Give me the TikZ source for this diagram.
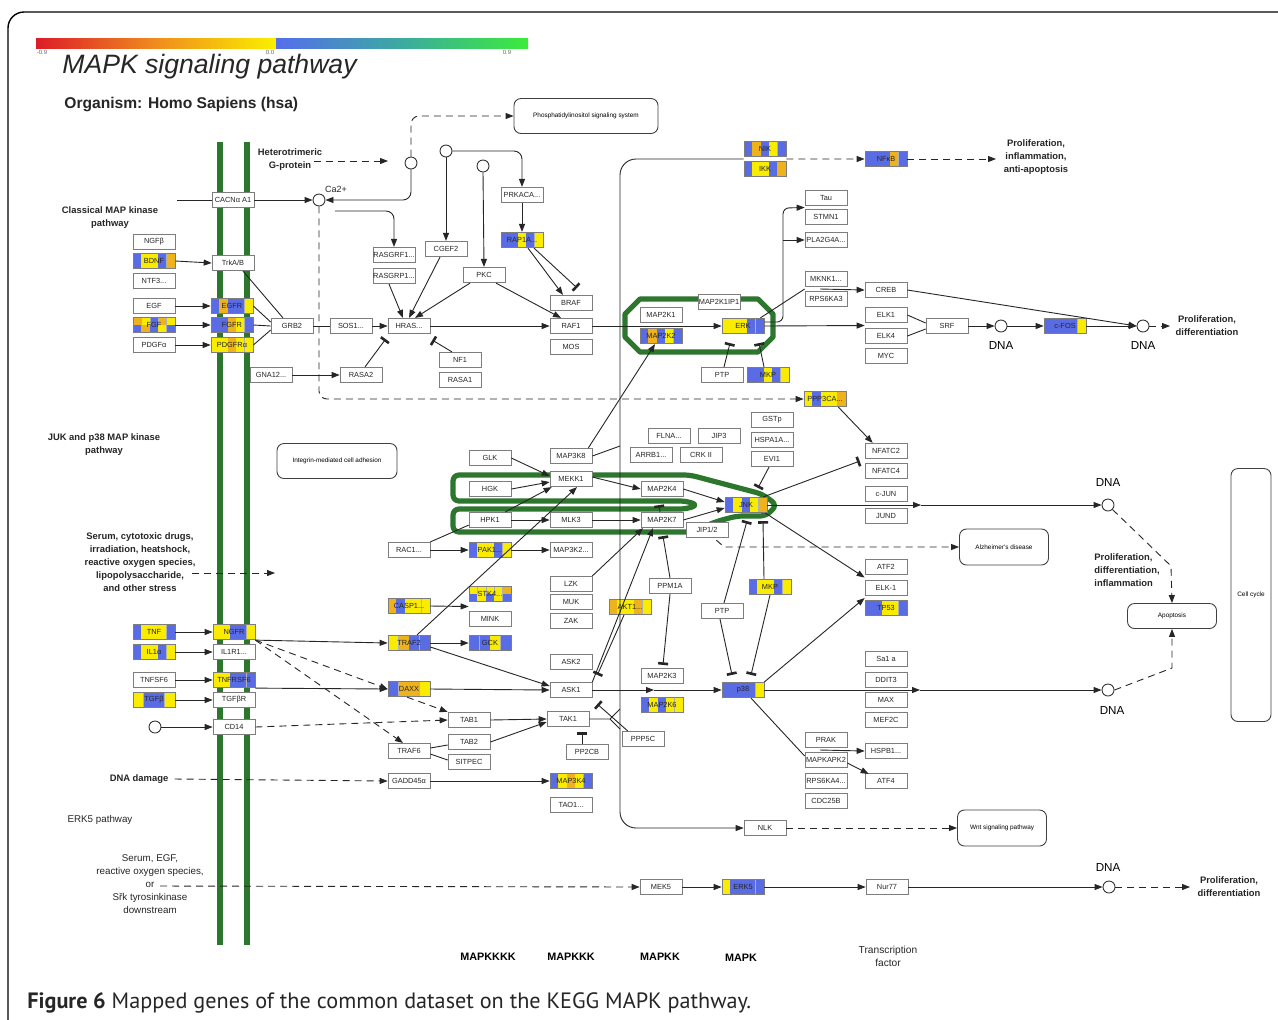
\documentclass[tikz,border=0pt]{standalone}
\usepackage{fontspec}
\setmainfont{Liberation Sans}
\newfontfamily\capfont{PT Sans}
\usetikzlibrary{arrows.meta,calc}
\definecolor{kb}{RGB}{90,108,228}
\definecolor{ky}{RGB}{250,236,0}
\definecolor{ko}{RGB}{238,178,28}
\definecolor{kg}{RGB}{44,118,46}
\definecolor{bx}{RGB}{125,125,125}
\definecolor{cbr}{RGB}{220,28,40}
\definecolor{cbo}{RGB}{240,140,30}
\definecolor{cby}{RGB}{250,240,0}
\definecolor{cbb}{RGB}{85,110,235}
\definecolor{cbt}{RGB}{60,170,160}
\definecolor{cbg}{RGB}{60,235,60}
\newcommand\fsz[2]{\fontsize{#1}{#2}\selectfont}
\tikzset{
 gb/.style={draw=bx, line width=0.35pt, fill=white, minimum width=21pt, minimum height=7.75pt, inner sep=0pt, font=\fsz{3.7}{4}, text=black!85},
 cbn/.style={draw=bx, line width=0.35pt, minimum width=21pt, minimum height=7.75pt, inner sep=0pt, font=\fsz{3.7}{4}, text=black!85},
 rb/.style={draw=black!75, line width=0.45pt, rounded corners=3.5pt, fill=white, inner sep=0pt, font=\fsz{3.2}{3.6}, align=center},
 dotc/.style={circle, draw=black!80, line width=0.45pt, fill=white, minimum size=6pt, inner sep=0pt},
 ln/.style={line width=0.45pt, draw=black!85},
 ar/.style={ln, -{Triangle[length=4pt,width=3pt]}},
 inh/.style={ln, -{Bar[width=5pt,line width=1.3pt]}},
 dsh/.style={dash pattern=on 3.5pt off 2.5pt},
 ann/.style={font=\bfseries\fsz{4.7}{6.5}, align=center, inner sep=0pt, text=black!85},
 lab/.style={font=\fsz{4.9}{6.5}, align=center, inner sep=0pt, text=black!85},
 grn/.style={draw=kg, line width=2.6pt, line join=round},
 memb/.style={draw=kg, line width=2.6pt},
 dnal/.style={font=\fsz{5.8}{6}, inner sep=0pt},
 lyr/.style={font=\bfseries\fsz{5.4}{6.5}, inner sep=0pt, align=center},
}
\newcommand\cbx[5]{%
  \foreach \cc [count=\nn] in {#5}{\xdef\segN{\nn}}%
  \foreach \cc [count=\ii] in {#5}{%
    \fill[\cc] ({#2-21+42*(\ii-1)/\segN},{#3-7.75}) rectangle ({#2-21+42*\ii/\segN},{#3+7.75});
    \draw[bx!60,line width=0.2pt] ({#2-21+42*\ii/\segN},{#3-7.75}) -- ++(0,15.5);}%
  \node[cbn] (#1) at (#2,#3) {#4};}
\newcommand\cbxtwo[6]{%
  \foreach \cc [count=\nn] in {#5}{\xdef\segN{\nn}}%
  \foreach \cc [count=\ii] in {#5}{%
    \fill[\cc] ({#2-21+42*(\ii-1)/\segN},{#3-7.75}) rectangle ({#2-21+42*\ii/\segN},{#3});}%
  \foreach \cc [count=\ii] in {#6}{%
    \fill[\cc] ({#2-21+42*(\ii-1)/\segN},{#3}) rectangle ({#2-21+42*\ii/\segN},{#3+7.75});
    \draw[bx!60,line width=0.2pt] ({#2-21+42*\ii/\segN},{#3-7.75}) -- ++(0,15.5);}%
  \node[cbn] (#1) at (#2,#3) {#4};}
\begin{document}
\begin{tikzpicture}[x=0.5pt,y=-0.5pt]
\useasboundingbox (0,0) rectangle (1278,1019);
\fill[white] (0,0) rectangle (1278,1019);
\draw[line width=0.7pt,rounded corners=8pt] (8,1030) -- (8,12) -- (1290,12);
% colour bar
\shade[left color=cbr,right color=cbo] (36,38) rectangle (156,48);
\shade[left color=cbo,right color=cby] (156,38) rectangle (276,48);
\shade[left color=cbb,right color=cbt] (276,38) rectangle (402,48);
\shade[left color=cbt,right color=cbg] (402,38) rectangle (528,48);
\node[font=\fsz{3}{3},text=black!60,inner sep=0] (lm) at (42,52.5) {-0.9};
\node[font=\fsz{3}{3},text=black!60,inner sep=0] (l0) at (270,52.5) {0.0};
\node[font=\fsz{3}{3},text=black!60,inner sep=0] (lp) at (507,52.5) {0.9};
\node[font=\itshape\fsz{13.3}{13.3},anchor=west,inner sep=0,text=black!85] (title) at (62,67) {MAPK signaling pathway};
\node[font=\bfseries\fsz{7.8}{8},anchor=west,inner sep=0,text=black!85] (org) at (64,104) {Organism: Homo Sapiens (hsa)};
% membranes
\draw[memb] (220,142) -- (220,945);
\draw[memb] (247,142) -- (247,945);
% green modules
\draw[grn] (640,299) -- (758,299) -- (773,314) -- (773,337) -- (758,352) -- (640,352) -- (625,337) -- (625,314) -- cycle;
\draw[grn,rounded corners=3pt] (560,475) -- (690,475) -- (762,494) -- (777,505) -- (766,516) -- (737,516) -- (718,521) -- (690,532) -- (453,532) -- (453,509) -- (686,509) -- (698,505) -- (686,501) -- (453,501) -- (453,475) -- cycle;
% ---------- nodes ----------
\node[gb] (ngfb) at (154,242) {NGFβ};
\cbx{bdnf}{154}{261}{BDNF}{kb,ky,ky,kb,ko}
\node[gb] (ntf3) at (154,281) {NTF3...};
\node[gb] (egf) at (154,306) {EGF};
\cbxtwo{fgf}{154}{325}{FGF}{ko,ky,kb,ko,ky}{kb,ko,kb,ky,kb}
\node[gb] (pdgfa) at (154,345) {PDGFα};
\node[gb] (cacna) at (233,200) {CACNα A1};
\node[gb] (trkab) at (233,263) {TrkA/B};
\cbx{egfr}{232}{306}{EGFR}{kb,ko,kb,kb,ky}
\cbx{fgfr}{232}{325}{FGFR}{kb,kb,ko,ky,kb}
\cbx{pdgfra}{232}{345}{PDGFRα}{ky,ky,ko,ky,ky}
\node[gb] (grb2) at (292,326) {GRB2};
\node[gb] (sos1) at (351,326) {SOS1...};
\node[gb] (hras) at (409,326) {HRAS...};
\node[gb] (rasgrf1) at (394,255) {RASGRF1...};
\node[gb] (rasgrp1) at (394,276) {RASGRP1...};
\node[gb] (cgef2) at (446,249) {CGEF2};
\node[gb] (pkc) at (484,275) {PKC};
\node[gb] (prkaca) at (522,195) {PRKACA...};
\cbx{rap1a}{522}{240}{RAP1A...}{kb,kb,ky,kb,ky}
\node[gb] (braf) at (571,303) {BRAF};
\node[gb] (raf1) at (571,326) {RAF1};
\node[gb] (mos) at (571,347) {MOS};
\node[gb] (nf1) at (460,360) {NF1};
\node[gb] (rasa1) at (460,380) {RASA1};
\node[gb] (rasa2) at (361,375) {RASA2};
\node[gb] (gna12) at (271,375) {GNA12...};
\node[gb] (map2k1) at (661,315) {MAP2K1};
\cbx{map2k2}{661}{336}{MAP2K2}{kb,ko,kb,ky,kb}
\node[gb] (map2k1ip1) at (719,302) {MAP2K1IP1};
\cbx{erk}{743}{326}{ERK}{ky,ky,ky,kb,kb}
\node[gb] (ptpa) at (722,375) {PTP};
\cbx{mkpa}{768}{375}{MKP}{kb,kb,ky,kb,ky}
\cbx{nik}{765}{149}{NIK}{kb,ko,kb,ky,kb}
\cbx{ikk}{765}{169}{IKK}{kb,ky,ky,kb,ko}
\cbx{nfkb}{886}{159}{NFκB}{kb,kb,kb,ko,kb}
\node[gb] (tau) at (826,198) {Tau};
\node[gb] (stmn1) at (826,217) {STMN1};
\node[gb] (pla2g4a) at (826,240) {PLA2G4A...};
\node[gb] (mknk1) at (826,279) {MKNK1...};
\node[gb] (rps6ka3) at (826,299) {RPS6KA3};
\node[gb] (creb) at (886,290) {CREB};
\node[gb] (elk1) at (886,315) {ELK1};
\node[gb] (elk4) at (886,336) {ELK4};
\node[gb] (myc) at (886,356) {MYC};
\node[gb] (srf) at (947,326) {SRF};
\cbx{cfos}{1065}{326}{c-FOS}{kb,kb,kb,kb,ky}
\cbx{ppp3ca}{825}{399}{PPP3CA...}{ky,kb,ky,ky,ko}
\node[gb] (gstp) at (772,420) {GSTp};
\node[gb] (hspa1a) at (772,440) {HSPA1A...};
\node[gb] (evi1) at (772,459) {EVI1};
\node[gb] (flna) at (669,436) {FLNA...};
\node[gb] (jip3) at (719,436) {JIP3};
\node[gb] (arrb1) at (651,455) {ARRB1...};
\node[gb] (crk) at (701,455) {CRK II};
\node[gb] (glk) at (490,458) {GLK};
\node[gb] (map3k8) at (571,456) {MAP3K8};
\node[gb] (mekk1) at (571,479) {MEKK1};
\node[gb] (hgk) at (490,489) {HGK};
\node[gb] (hpk1) at (490,520) {HPK1};
\node[gb] (mlk3) at (571,520) {MLK3};
\node[gb] (map2k4) at (662,489) {MAP2K4};
\node[gb] (map2k7) at (662,520) {MAP2K7};
\node[gb] (jip12) at (707,530) {JIP1/2};
\cbx{jnk}{746}{505}{JNK}{kb,ky,kb,ky,ko}
\node[gb] (nfatc2) at (886,451) {NFATC2};
\node[gb] (nfatc4) at (886,471) {NFATC4};
\node[gb] (cjun) at (886,494) {c-JUN};
\node[gb] (jund) at (886,516) {JUND};
\node[gb] (atf2) at (886,567) {ATF2};
\node[gb] (elk1b) at (886,588) {ELK-1};
\cbx{tp53}{886}{608}{TP53}{kb,kb,ky,ky,kb}
\node[gb] (ptpb) at (722,611) {PTP};
\cbx{mkpb}{770}{587}{MKP}{kb,ky,ky,kb,ky}
\node[gb] (ppm1a) at (670,586) {PPM1A};
\cbx{akt1}{630}{607}{AKT1...}{ko,ky,ky,ko,ky}
\node[gb] (rac1) at (409,550) {RAC1...};
\cbx{pak1}{490}{550}{PAK1...}{kb,ky,ky,kb,ky}
\node[gb] (map3k2) at (571,550) {MAP3K2...};
\cbx{casp1}{409}{606}{CASP1...}{ko,kb,ky,ky,ky}
\cbxtwo{stk4}{490}{594}{STK4...}{ky,ky,ky,ky,ko}{kb,ky,kb,ky,kb}
\node[gb] (mink) at (490,619) {MINK};
\cbx{traf2}{409}{643}{TRAF2}{ky,ko,kb,kb}
\cbx{gck}{490}{643}{GCK}{kb,kb,ky,kb}
\node[gb] (lzk) at (571,584) {LZK};
\node[gb] (muk) at (571,602) {MUK};
\node[gb] (zak) at (571,621) {ZAK};
\node[gb] (ask2) at (571,662) {ASK2};
\node[gb] (ask1) at (571,690) {ASK1};
\node[gb] (tak1) at (568,719) {TAK1};
\node[gb] (pp2cb) at (587,752) {PP2CB};
\cbx{map3k4}{571}{781}{MAP3K4}{kb,ky,ko,ky,kb}
\node[gb] (tao1) at (571,805) {TAO1...};
\node[gb] (ppp5c) at (643,739) {PPP5C};
\node[gb] (map2k3) at (662,676) {MAP2K3};
\cbx{map2k6}{662}{705}{MAP2K6}{kb,ky,kb,ky,ky}
\cbx{p38}{743}{690}{p38}{kb,kb,kb,kb,ky}
\node[gb] (sa1a) at (886,659) {Sa1 a};
\node[gb] (ddit3) at (886,680) {DDIT3};
\node[gb] (max) at (886,700) {MAX};
\node[gb] (mef2c) at (886,720) {MEF2C};
\node[gb] (prak) at (826,740) {PRAK};
\node[gb] (mapkapk2) at (826,760) {MAPKAPK2};
\node[gb] (rps6ka4) at (826,781) {RPS6KA4...};
\node[gb] (cdc25b) at (826,801) {CDC25B};
\node[gb] (hspb1) at (886,751) {HSPB1...};
\node[gb] (atf4) at (886,781) {ATF4};
\node[gb] (nlk) at (765,828) {NLK};
\cbx{tnf}{154}{632}{TNF}{kb,ky,ky,ky,kb}
\cbx{il1a}{154}{652}{IL1α}{kb,ky,ky,kb,ky}
\node[gb] (tnfsf6) at (154,680) {TNFSF6};
\cbx{tgfb}{154}{700}{TGFβ}{ky,kb,kb,ky}
\cbx{ngfr}{234}{632}{NGFR}{ky,ky,kb,kb,ky}
\node[gb] (il1r1) at (234,652) {IL1R1...};
\cbx{tnfrsf6}{234}{680}{TNFRSF6}{ky,ky,kb,kb,kb}
\node[gb] (tgfbr) at (234,700) {TGFβR};
\node[gb] (cd14) at (234,727) {CD14};
\cbx{daxx}{409}{689}{DAXX}{kb,ko,ko,ky}
\node[gb] (tab1) at (469,720) {TAB1};
\node[gb] (tab2) at (469,742) {TAB2};
\node[gb] (sitpec) at (469,762) {SITPEC};
\node[gb] (traf6) at (409,751) {TRAF6};
\node[gb] (gadd45a) at (409,781) {GADD45α};
\node[gb] (mek5) at (661,887) {MEK5};
\cbx{erk5}{743}{887}{ERK5}{ky,kb,kb,kb,kb}
\node[gb] (nur77) at (887,887) {Nur77};
% rounded boxes
\node[rb, minimum width=72pt, minimum height=17.5pt] (phos) at (586,116) {Phosphatidylinositol signaling system};
\node[rb, minimum width=60pt, minimum height=17.5pt] (integ) at (337,461) {Integrin-mediated cell adhesion};
\node[rb, minimum width=44.5pt, minimum height=18pt] (alz) at (1004,547) {Alzheimer's disease};
\node[rb, minimum width=44.5pt, minimum height=12.5pt] (apop) at (1172,616) {Apoptosis};
\node[rb, minimum width=20pt, minimum height=126.5pt] (cellc) at (1251,595) {Cell cycle};
\node[rb, minimum width=44.5pt, minimum height=18pt] (wnt) at (1002,828) {Wnt signaling pathway};
% circles
\node[dotc] (cG) at (411,163) {};
\node[dotc] (ca) at (319,200) {};
\node[dotc] (c1) at (446,151) {};
\node[dotc] (c2) at (483,166) {};
\node[dotc] (dna1) at (1001,326) {};
\node[dotc] (dna2) at (1143,326) {};
\node[dotc] (dnaj) at (1108,505) {};
\node[dotc] (dnap) at (1108,690) {};
\node[dotc] (dna5) at (1109,887) {};
\node[dotc] (ccd14) at (155,727) {};
% texts
\node[ann] (het) at (290,160) {Heterotrimeric\\G-protein};
\node[lab,font=\fsz{4.5}{5}] (catext) at (336,189) {Ca2+};
\node[ann] (classical) at (110,218) {Classical MAP kinase\\pathway};
\node[ann] (prol1) at (1036,157) {Proliferation,\\inflammation,\\anti-apoptosis};
\node[ann] (prol2) at (1207,326) {Proliferation,\\differentiation};
\node[ann,align=left,anchor=west] (prol3) at (1094,570) {Proliferation,\\differentiation,\\inflammation};
\node[ann] (prol4) at (1229,887) {Proliferation,\\differentiation};
\node[ann] (juk) at (104,445) {JUK and p38 MAP kinase\\pathway};
\node[ann] (stress) at (140,562) {Serum, cytotoxic drugs,\\irradiation, heatshock,\\reactive oxygen species,\\lipopolysaccharide,\\and other stress};
\node[ann] (dnadmg) at (139,779) {DNA damage};
\node[lab] (erk5p) at (100,820) {ERK5 pathway};
\node[lab] (erk5s) at (150,884) {Serum, EGF,\\reactive oxygen species,\\or\\Sřk tyrosinkinase\\downstream};
\node[dnal] (dl1) at (1001,345) {DNA};
\node[dnal] (dl2) at (1143,345) {DNA};
\node[dnal] (dl3) at (1108,482) {DNA};
\node[dnal] (dl4) at (1112,710) {DNA};
\node[dnal] (dl5) at (1108,867) {DNA};
\node[lyr] (b1) at (488,957) {MAPKKKK};
\node[lyr] (b2) at (571,957) {MAPKKK};
\node[lyr] (b3) at (660,957) {MAPKK};
\node[lyr] (b4) at (741,958) {MAPK};
\node[lab,font=\fsz{5.1}{6.5}] (b5) at (888,956) {Transcription\\factor};
\node[anchor=west,inner sep=0,font=\capfont\fsz{11.1}{12},text=black!85] (cap) at (27,1003) {\textbf{Figure 6} Mapped genes of the common dataset on the KEGG MAPK pathway.};
% coordinates
\coordinate (cacin) at (177,200);
\coordinate (caout) at (335,211);
\coordinate (hetin) at (314,161);
\coordinate (hetout) at (388,161);
\coordinate (stin) at (192,573);
\coordinate (stout) at (275,573);
\coordinate (e5in) at (160,886);
\coordinate (p4in) at (1190,887);
\coordinate (p1in) at (996,159);
\coordinate (p2in) at (1170,326);
\coordinate (erkup) at (783,208);
\coordinate (erkpl) at (783,240);
\coordinate (vj1) at (620,446);
\coordinate (tkj) at (610,719);
\coordinate (tkup) at (620,709);
\coordinate (tkdn) at (620,729);
\coordinate (jmid) at (921,505);
\coordinate (amid) at (654,690);
\coordinate (pmid) at (920,690);
\coordinate (alzj) at (724,547);
\coordinate (dj1) at (1171,566);
\coordinate (dj2) at (1172,668);
\coordinate (taust) at ($(tau.south west)!0.5!(stmn1.north west)$);
\coordinate (mkrp) at ($(mknk1.south west)!0.5!(rps6ka3.north west)$);
\coordinate (mk) at ($(mknk1.south)!0.5!(rps6ka3.north)$);
\coordinate (elkm) at ($(elk1.south west)!0.5!(elk4.north west)$);
\coordinate (nikj) at ($(nik.south west)!0.5!(ikk.north west)$);
\coordinate (nikk) at ($(nik.south east)!0.5!(ikk.north east)$);
\coordinate (atfm) at ($(atf2.south west)!0.5!(elk1b.north west)$);
\coordinate (tpm) at ($(elk1b.south west)!0.5!(tp53.north west)$);
\coordinate (stm) at ($(stk4.south west)!0.5!(mink.north west)$);
\coordinate (pkm) at ($(prak.south)!0.5!(mapkapk2.north)$);
% ---------- connectors ----------
\draw[ln] (cacin) -- (cacna.west);
\draw[ar] (cacna.east) -- (ca.west);
\draw[ar,rounded corners=4pt] (cG.south) |- (ca.east);
\draw[ar,dsh,rounded corners=4pt] (cG.north) |- (phos.west);
\draw[ar,dsh] (hetin) -- (hetout);
\draw[ar,dsh,rounded corners=4pt] (ca.south) |- (ppp3ca.west);
\draw[ar,rounded corners=4pt] (caout) -| (rasgrf1.north);
\draw[ar] (c1.south) -- (cgef2.north);
\draw[ar,rounded corners=4pt] (c1.east) -| (prkaca.north);
\draw[ar] (c2.south) -- (pkc.north);
\draw[ar] (prkaca.south) -- (rap1a.north);
\draw[ar] ($(rap1a.south)+(6,0)$) -- ($(braf.north)+(-8,0)$);
\draw[inh] ($(rap1a.south)+(12,0)$) -- ($(braf.north)+(6,-7)$);
\draw[ar] ($(rasgrp1.south)+(-5,0)$) -- ($(hras.north)+(-6,0)$);
\draw[ar] ($(cgef2.south)+(-6,0)$) -- (hras.north);
\draw[ar] ($(pkc.south)+(-14,0)$) -- ($(hras.north)+(6,0)$);
\draw[ar] ($(pkc.south)+(12,0)$) -- ($(raf1.north)+(-10,0)$);
\draw[ln] (grb2.east) -- (sos1.west);
\draw[ar] (sos1.east) -- (hras.west);
\draw[ar] (hras.east) -- (raf1.west);
\draw[ar] (raf1.east) -- (erk.west);
\draw[inh] ($(nf1.north)+(-8,0)$) -- ($(hras.south east)+(2,6)$);
\draw[inh] ($(rasa2.north)+(4,0)$) -- ($(hras.south west)+(-2,5)$);
\draw[ar] (gna12.east) -- (rasa2.west);
\draw[ar] (bdnf.east) -- (trkab.west);
\draw[ar] (egf.east) -- (egfr.west);
\draw[ar] (fgf.east) -- (fgfr.west);
\draw[ar] (pdgfa.east) -- (pdgfra.west);
\draw[ln] ($(trkab.south)+(10,0)$) -- ($(grb2.north)+(-9,0)$);
\draw[ln] (egfr.east) -- ($(grb2.west)+(0,-4)$);
\draw[ln] (fgfr.east) -- (grb2.west);
\draw[ln] (pdgfra.east) -- ($(grb2.west)+(0,4)$);
% ERK outputs
\draw[ar,rounded corners=3pt] ($(erk.east)+(0,-4)$) -| (erkup) -- (taust);
\draw[ar] (erkpl) -- (pla2g4a.west);
\draw[ln] ($(erk.north east)+(-4,0)$) -- (mkrp);
\draw[ar] ($(mk)+(-6,0)$) -- (creb.west);
\draw[ar] (erk.east) -- (elkm);
\draw[ln] (elk1.east) -- ($(srf.west)+(0,-3)$);
\draw[ln] (elk4.east) -- ($(srf.west)+(0,3)$);
\draw[ar] (srf.east) -- (dna1.west);
\draw[ar] (dna1.east) -- (cfos.west);
\draw[ar] (cfos.east) -- (dna2.west);
\draw[ar] (creb.east) -- (dna2.west);
\draw[ar,dsh] (dna2.east) -- (p2in);
\draw[inh] ($(ptpa.north)+(2,0)$) -- ($(erk.south)+(-13,9)$);
\draw[inh] ($(mkpa.north)+(-4,0)$) -- ($(erk.south)+(16,9)$);
% NIK / NLK line
\draw[ar,rounded corners=8pt] (nikj) -| (620,500) |- (nlk.west);
\draw[ar,dsh] (nikk) -- (nfkb.west);
\draw[ar,dsh] (nfkb.east) -- (p1in);
\draw[ar] ($(map3k8.north east)+(-4,0)$) -- ($(map2k2.south)+(-6,0)$);
\draw[ln] (map3k8.east) -- (vj1);
\draw[ln] (tak1.east) -- (tkj) -- (tkup);
\draw[ln] (tkj) -- (tkdn);
% JNK module
\draw[ar] (glk.east) -- ($(mekk1.west)+(0,-3)$);
\draw[ar] (hgk.east) -- ($(mekk1.west)+(0,3)$);
\draw[ar] ($(hpk1.north east)+(-6,0)$) -- ($(mekk1.south west)+(2,0)$);
\draw[ar] (hpk1.east) -- (mlk3.west);
\draw[ar] (mlk3.east) -- (map2k7.west);
\draw[ar] ($(mekk1.east)+(0,-2)$) -- (map2k4.west);
\draw[ar] (map2k4.east) -- ($(jnk.west)+(0,-3)$);
\draw[ar] (map2k7.east) -- ($(jnk.west)+(0,3)$);
\draw[inh] ($(map2k7.north)+(-2,0)$) -- ($(map2k4.south)+(-3,8)$);
\draw[ln] (rac1.north east) -- ($(hpk1.south west)+(0,-3)$);
\draw[ar] (rac1.east) -- (pak1.west);
\draw[ar] (pak1.east) -- (map3k2.west);
\draw[ar] ($(traf2.north)+(8,0)$) -- ($(mekk1.south)+(6,0)$);
\draw[inh] ($(evi1.south)+(-3,0)$) -- ($(jnk.north)+(12,-9)$);
\draw[inh] ($(jnk.north east)+(-4,0)$) -- ($(nfatc2.south west)+(-5,2)$);
\draw[ar] (jnk.east) -- (jmid);
\draw[ar] (jmid) -- (dnaj.west);
\draw[ar,dsh] (dnaj.south east) -- (dj1) -- (apop.north);
\draw[ar,dsh] (dnap.east) -- (dj2) -- (apop.south);
\draw[ar] ($(ppp3ca.south east)+(-8,0)$) -- ($(nfatc2.north west)+(8,0)$);
\draw[ar,dsh] ($(jip12.south east)+(-12,2)$) -- (alzj) -- (alz.west);
\draw[ar] ($(jnk.south east)+(-2,0)$) -- (atfm);
\draw[inh] ($(ptpb.north)+(2,0)$) -- ($(jnk.south)+(1,8)$);
\draw[inh] ($(mkpb.north)+(-6,0)$) -- ($(jnk.south)+(17,8)$);
\draw[inh] ($(ptpb.south)+(-2,0)$) -- ($(p38.north)+(-11,-7)$);
\draw[inh] (mkpb.south) -- ($(p38.north)+(8,-7)$);
\draw[inh] (ppm1a.north) -- ($(map2k7.south)+(1,8)$);
\draw[inh] (ppm1a.south) -- ($(map2k3.north)+(1,-3)$);
\draw[ar] (lzk.north east) -- ($(map2k7.south)+(-19,0)$);
\draw[ar] (ask1.north east) -- ($(map2k7.south)+(-9,0)$);
\draw[inh] ($(akt1.south)+(-6,0)$) -- ($(ask1.north east)+(5,-7)$);
\draw[inh] ($(ppp5c.north west)+(6,0)$) -- ($(ask1.south east)+(5,6)$);
\draw[ar] (ask1.east) -- (amid);
\draw[ar] (amid) -- (p38.west);
\draw[ar] (p38.east) -- (pmid);
\draw[ar] (pmid) -- (dnap.west);
\draw[ar] (p38.north east) -- (tpm);
\draw[ln] ($(p38.south)+(8,0)$) -- ($(mapkapk2.west)+(0,-4)$);
\draw[ar] ($(pkm)+(-6,0)$) -- (hspb1.west);
\draw[ar] ($(mapkapk2.east)+(0,3)$) -- ($(atf4.north west)+(4,1)$);
% lower left
\draw[ar] (tab1.east) -- (tak1.west);
\draw[ar] (tab2.east) -- ($(tak1.west)+(0,3)$);
\draw[ln] ($(traf6.east)+(0,-3)$) -- ($(tab2.west)+(0,3)$);
\draw[ln] ($(traf6.east)+(0,3)$) -- ($(sitpec.west)+(0,-2)$);
\draw[inh] ($(pp2cb.north)+(-5,0)$) -- ($(tak1.south)+(14,5)$);
\draw[ar] (ngfr.south east) -- (traf2.west);
\draw[ar,dsh] (ngfr.south east) -- (daxx.west);
\draw[ar,dsh] (ngfr.south east) -- ($(traf6.north)+(-6,0)$);
\draw[ar] (tnfrsf6.south east) -- (daxx.west);
\draw[ar] (daxx.east) -- (ask1.west);
\draw[ar] ($(traf2.east)+(0,4)$) -- ($(ask1.west)+(0,-4)$);
\draw[ar,dsh] ($(daxx.south)+(-2,0)$) -- (tab1.north west);
\draw[ar,dsh] (cd14.east) -- (tab1.west);
\draw[ar] (tnf.east) -- (ngfr.west);
\draw[ar] (il1a.east) -- (il1r1.west);
\draw[ar] (tnfsf6.east) -- (tnfrsf6.west);
\draw[ar] (tgfb.east) -- (tgfbr.west);
\draw[ar] (ccd14.east) -- (cd14.west);
\draw[ar] (casp1.east) -- (stm);
\draw[ar] (traf2.east) -- (gck.west);
\draw[ar] (gadd45a.east) -- (map3k4.west);
\draw[ar,dsh] ($(dnadmg.east)+(6,0)$) -- (gadd45a.west);
\draw[ar,dsh] (stin) -- (stout);
% ERK5
\draw[ar,dsh] (e5in) -- (mek5.west);
\draw[ar] (mek5.east) -- (erk5.west);
\draw[ar] (erk5.east) -- (nur77.west);
\draw[ar] (nur77.east) -- (dna5.west);
\draw[ar,dsh] (dna5.east) -- (p4in);
\draw[ar,dsh] (nlk.east) -- (wnt.west);
\end{tikzpicture}
\end{document}
